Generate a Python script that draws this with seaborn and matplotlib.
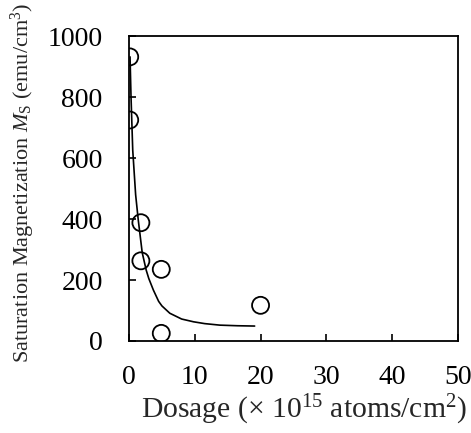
import numpy as np
import pandas as pd
import seaborn as sns
import matplotlib.pyplot as plt

# measured samples
dosage = [0.1, 0.1, 1.8, 1.8, 4.9, 4.9, 20.0]
ms = [932, 725, 388, 263, 235, 25, 117]

# fitted curve
fit_x = [0.15, 0.3, 0.56, 1.0, 1.4, 2.0, 2.6, 3.0, 3.7, 4.5, 5.0, 6.2, 8.0,
         9.8, 11.5, 13.8, 16.5, 19.1]
fit_y = [932, 800, 626, 480, 397, 290, 233, 205, 167, 130, 115, 91, 72,
         63, 57, 52, 50, 49]

df_pts = pd.DataFrame({"dosage": dosage, "ms": ms})
df_fit = pd.DataFrame({"dosage": fit_x, "ms": fit_y})

sns.set_style("ticks")
plt.rcParams["font.family"] = ["Liberation Serif", "DejaVu Serif"]
plt.rcParams["mathtext.fontset"] = "custom"
plt.rcParams["mathtext.rm"] = "Liberation Serif"
plt.rcParams["mathtext.it"] = "Liberation Serif:italic"

fig = plt.figure(figsize=(4.71, 4.33), dpi=100)
ax = fig.add_axes([0.274, 0.2125, 0.698, 0.704])

sns.lineplot(data=df_fit, x="dosage", y="ms", color="black", lw=1.2, ax=ax)
sns.scatterplot(data=df_pts, x="dosage", y="ms", s=150, marker="o",
                facecolors="none", edgecolor="black", linewidth=1.3, ax=ax,
                zorder=3)

ax.set_xlim(0, 50)
ax.set_ylim(0, 1000)
ax.set_xticks([0, 10, 20, 30, 40, 50])
ax.set_yticks([0, 200, 400, 600, 800, 1000])
ax.tick_params(direction="in", length=5, width=1.2, labelsize=20,
               colors="black")
ax.tick_params(axis="x", pad=17)
ax.tick_params(axis="y", pad=19)
for s in ax.spines.values():
    s.set_linewidth(1.3)
    s.set_color("black")

ax.set_xlabel("Dosage (× 10$^{15}$ atoms/cm$^2$)", fontsize=21.3)
ax.set_ylabel(r"Saturation Magnetization $M_{\mathrm{S}}$ (emu/cm$^3$)",
              fontsize=16)
ax.yaxis.set_label_coords(-0.28, 0.52)
ax.xaxis.set_label_coords(0.533, -0.17)

fig.savefig("out.png", dpi=100)
